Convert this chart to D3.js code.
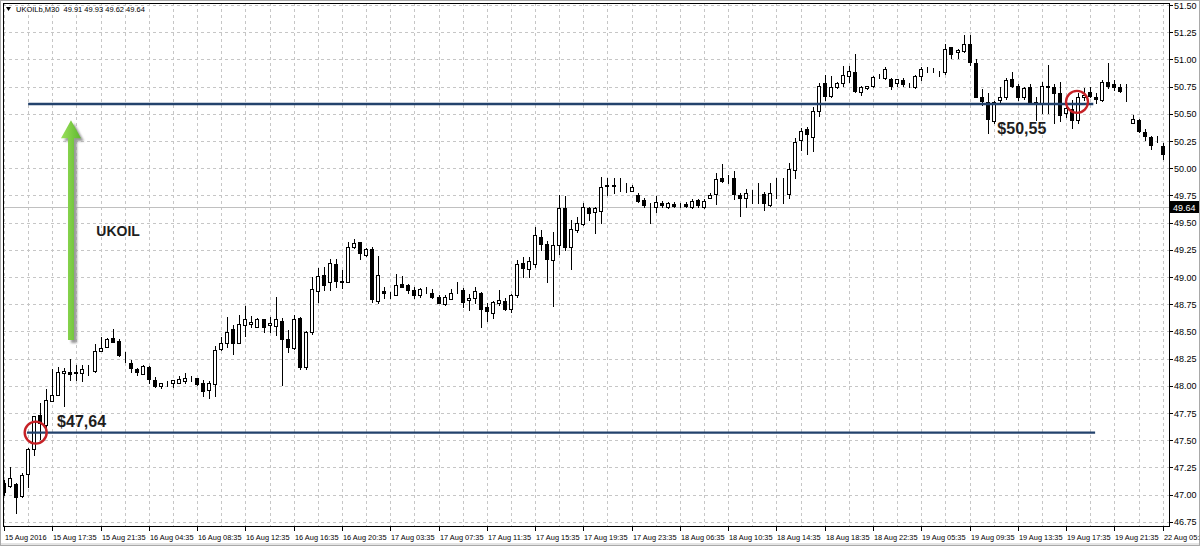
<!DOCTYPE html>
<html>
<head>
<meta charset="utf-8">
<script src="https://cdn.jsdelivr.net/npm/d3@7"></script>
<style>
  body { margin: 0; background: #ffffff; }
  svg { display: block; font-family: "Liberation Sans", Arial, sans-serif; }
</style>
</head>
<body>
<svg id="chart" width="1200" height="546"></svg>
<script>

///////  Data: UKOILb M30 bars ///////

var open = [47.11,47.08,47.10,46.99,47.19,47.42,47.73,47.64,47.86,47.92,
48.12,48.13,48.12,48.12,48.14,48.14,48.32,48.36,48.44,48.41,
48.26,48.21,48.15,48.11,48.17,48.05,48.00,48.02,48.03,48.03,
48.04,48.06,48.07,48.03,47.96,48.02,48.34,48.39,48.52,48.39,
48.56,48.57,48.54,48.61,48.56,48.55,48.60,48.43,48.35,48.62,
48.17,48.49,48.87,49.02,48.95,49.12,48.96,48.95,49.28,49.32,
49.20,49.26,48.78,48.87,48.85,48.83,48.94,48.93,48.88,48.83,
48.88,48.85,48.82,48.75,48.80,48.86,48.88,48.79,48.81,48.85,
48.72,48.67,48.76,48.78,48.71,48.83,49.13,49.07,49.12,49.37,
49.30,49.16,49.29,49.63,49.28,49.43,49.49,49.63,49.60,49.61,
49.84,49.85,49.84,49.83,49.79,49.75,49.71,49.66,49.64,49.68,
49.64,49.67,49.66,49.67,49.64,49.71,49.64,49.73,49.76,49.91,
49.90,49.91,49.75,49.73,49.77,49.77,49.76,49.66,49.77,49.77,
49.76,49.98,50.26,50.36,50.29,50.53,50.78,50.66,50.75,50.78,
50.85,50.88,50.70,50.74,50.76,50.84,50.83,50.82,50.78,50.81,
50.76,50.75,50.85,50.88,50.88,50.88,50.88,51.11,51.07,51.08,
51.14,50.97,50.65,50.61,50.43,50.63,50.65,50.82,50.76,50.65,
50.75,50.60,50.60,50.75,50.75,50.69,50.51,50.54,50.44,50.65,
50.70,50.65,50.63,50.79,50.77,50.75,50.73,50.42,50.44,50.33,
50.29,50.25,50.20];

var high = [47.13,47.25,47.11,47.20,47.43,47.72,47.84,47.97,48.15,48.17,
48.16,48.25,48.19,48.19,48.19,48.38,48.45,48.44,48.52,48.43,
48.31,48.24,48.16,48.19,48.18,48.08,48.03,48.04,48.05,48.09,
48.12,48.09,48.07,48.05,48.04,48.37,48.45,48.63,48.56,48.65,
48.73,48.64,48.62,48.61,48.63,48.82,48.62,48.51,48.65,48.63,
48.50,49.00,49.08,49.09,49.17,49.17,49.06,49.32,49.35,49.32,
49.27,49.28,49.19,48.91,48.86,49.03,49.01,48.94,48.91,48.90,
48.91,48.89,48.83,48.83,48.89,48.95,48.90,48.84,48.91,48.86,
48.76,48.78,48.88,48.81,48.84,49.16,49.18,49.18,49.46,49.43,
49.33,49.41,49.75,49.74,49.52,49.55,49.68,49.64,49.64,49.92,
49.91,49.91,49.91,49.86,49.85,49.77,49.73,49.68,49.74,49.70,
49.69,49.69,49.68,49.69,49.72,49.72,49.72,49.77,49.96,50.04,
49.94,49.97,49.77,49.81,49.80,49.86,49.78,49.86,49.91,49.91,
50.05,50.28,50.37,50.38,50.56,50.78,50.86,50.85,50.79,50.94,
50.94,51.05,50.76,50.76,50.85,50.87,50.93,50.83,50.81,50.83,
50.78,50.86,50.93,50.93,50.92,50.89,51.14,51.11,51.10,51.22,
51.22,51.00,50.73,50.69,50.62,50.75,50.83,50.88,50.77,50.75,
50.77,50.65,50.79,50.95,50.77,50.79,50.60,50.63,50.69,50.74,
50.75,50.69,50.81,50.97,50.81,50.77,50.77,50.49,50.45,50.36,
50.30,50.30,50.23];

var low = [47.00,47.07,46.83,46.98,47.07,47.36,47.51,47.62,47.86,47.92,
47.81,48.05,48.05,48.04,48.10,48.13,48.32,48.36,48.40,48.27,
48.22,48.13,48.10,48.11,48.03,47.99,47.98,48.00,47.99,48.03,
48.03,48.04,48.01,47.91,47.89,47.91,48.33,48.36,48.29,48.39,
48.46,48.54,48.54,48.49,48.49,48.47,48.01,48.31,48.34,48.15,
48.15,48.48,48.77,48.88,48.88,48.91,48.90,48.95,49.27,49.17,
49.19,48.77,48.76,48.81,48.81,48.83,48.91,48.85,48.81,48.82,
48.85,48.81,48.76,48.74,48.80,48.85,48.72,48.70,48.76,48.54,
48.60,48.62,48.74,48.70,48.68,48.82,49.00,49.00,49.09,49.25,
48.95,48.73,49.21,49.25,49.07,49.41,49.48,49.52,49.40,49.50,
49.75,49.77,49.79,49.78,49.79,49.69,49.64,49.50,49.60,49.64,
49.63,49.64,49.64,49.64,49.63,49.64,49.63,49.73,49.67,49.87,
49.86,49.72,49.56,49.64,49.68,49.68,49.62,49.65,49.73,49.68,
49.73,49.91,50.17,50.13,50.16,50.48,50.63,50.65,50.74,50.76,
50.79,50.70,50.67,50.73,50.75,50.83,50.82,50.73,50.76,50.76,
50.75,50.74,50.81,50.88,50.88,50.85,50.87,51.01,51.01,51.07,
50.95,50.65,50.58,50.32,50.42,50.61,50.64,50.75,50.63,50.64,
50.60,50.44,50.51,50.51,50.42,50.43,50.47,50.37,50.42,50.63,
50.65,50.60,50.62,50.74,50.72,50.70,50.62,50.42,50.33,50.26,
50.18,50.24,50.08];

var close = [47.02,47.15,46.98,47.18,47.42,47.72,47.66,47.87,47.92,48.13,
48.14,48.11,48.13,48.15,48.14,48.32,48.35,48.43,48.40,48.28,
48.26,48.16,48.13,48.18,48.06,48.00,48.03,48.02,48.05,48.06,
48.07,48.06,48.02,47.95,48.03,48.33,48.39,48.49,48.39,48.57,
48.61,48.59,48.61,48.54,48.58,48.61,48.43,48.36,48.61,48.17,
48.49,48.89,49.01,48.93,49.13,48.96,48.95,49.28,49.31,49.22,
49.26,48.80,49.02,48.85,48.85,48.93,48.91,48.88,48.83,48.89,
48.88,48.82,48.76,48.82,48.85,48.86,48.77,48.81,48.87,48.71,
48.69,48.77,48.79,48.71,48.83,49.12,49.08,49.15,49.39,49.30,
49.17,49.29,49.63,49.28,49.44,49.50,49.64,49.59,49.63,49.83,
49.85,49.84,49.84,49.83,49.83,49.70,49.66,49.66,49.69,49.66,
49.68,49.65,49.66,49.65,49.70,49.66,49.70,49.75,49.90,49.88,
49.90,49.76,49.73,49.77,49.77,49.77,49.68,49.77,49.77,49.77,
49.99,50.24,50.34,50.31,50.53,50.76,50.66,50.75,50.78,50.86,
50.89,50.71,50.75,50.76,50.84,50.84,50.91,50.76,50.82,50.77,
50.76,50.85,50.91,50.88,50.88,50.88,51.10,51.05,51.09,51.14,
50.98,50.65,50.62,50.45,50.61,50.65,50.81,50.76,50.65,50.74,
50.61,50.61,50.76,50.76,50.69,50.49,50.55,50.44,50.65,50.67,
50.66,50.64,50.79,50.76,50.75,50.71,50.73,50.45,50.34,50.30,
50.21,50.25,50.13];

// one time label every 8 bars
var timeLabels = ["15 Aug 2016","15 Aug 17:35","15 Aug 21:35","16 Aug 04:35","16 Aug 08:35",
"16 Aug 12:35","16 Aug 16:35","16 Aug 20:35","17 Aug 03:35","17 Aug 07:35","17 Aug 11:35",
"17 Aug 15:35","17 Aug 19:35","17 Aug 23:35","18 Aug 06:35","18 Aug 10:35","18 Aug 14:35",
"18 Aug 18:35","18 Aug 22:35","19 Aug 05:35","19 Aug 09:35","19 Aug 13:35","19 Aug 17:35",
"19 Aug 21:35","22 Aug 05:35"];

var priceTicks = [46.75,47.00,47.25,47.50,47.75,48.00,48.25,48.50,48.75,49.00,
49.25,49.50,49.75,50.00,50.25,50.50,50.75,51.00,51.25,51.50];

var header = "UKOILb,M30  49.91 49.93 49.62 49.64";
var bidPrice = 49.64;

// drawn levels and notes: [bar index from, bar index to, price]
var levels = [[3.8, 180.8, 47.57], [4.0, 180.5, 50.59]];
var circles = [[5.25, 47.57], [177.8, 50.61]];
var notes = [["$47,64", 8.8, 47.62, 16], ["$50,55", 164.6, 50.31, 16], ["UKOIL", 15.3, 49.38, 14]];
var arrow = {bar: 11.1, from: 48.42, to: 50.44};


///////  Scales ///////

var svg = d3.select("#chart"),
plot = {left: 3, top: 3, right: 1169, bottom: 526};

var x = d3.scaleLinear().domain([0, open.length - 1]).range([4, 1162.7]);
var y = d3.scaleLinear().domain([46.75, 51.50]).range([521.8, 5]);

var bars = d3.range(open.length).map(function(i) {
    return {i: i, o: open[i], h: high[i], l: low[i], c: close[i]};
});

function px(i) { return Math.round(x(i)); }
function py(p) { return Math.round(y(p)); }


///////  Frame ///////

svg.append("rect")
    .attr("width", 1200).attr("height", 546)
    .attr("fill", "#ffffff");

svg.append("rect")
    .attr("x", 0).attr("y", 543).attr("width", 1200).attr("height", 3)
    .attr("fill", "#e4e4e4");

svg.append("rect")
    .attr("x", 0.5).attr("y", 0.5).attr("width", 1199).attr("height", 545)
    .attr("fill", "none").attr("stroke", "#a9a9a9");

var defs = svg.append("defs");
defs.append("clipPath").attr("id", "clip")
    .append("rect")
    .attr("x", plot.left).attr("y", plot.top)
    .attr("width", plot.right - plot.left).attr("height", plot.bottom - plot.top);
defs.append("filter").attr("id", "blur")
    .attr("x", "-10%").attr("y", "-300%").attr("width", "120%").attr("height", "700%")
    .append("feGaussianBlur").attr("stdDeviation", 1.3);
defs.append("filter").attr("id", "blur2")
    .attr("x", "-50%").attr("y", "-20%").attr("width", "200%").attr("height", "140%")
    .append("feGaussianBlur").attr("stdDeviation", 1.2);

var grad = defs.append("linearGradient").attr("id", "green")
    .attr("x1", "0").attr("x2", "1").attr("y1", "0").attr("y2", "0");
grad.append("stop").attr("offset", "0%").attr("stop-color", "#9be15c");
grad.append("stop").attr("offset", "100%").attr("stop-color", "#5fb82e");


///////  Grid ///////

var grid = svg.append("g").attr("clip-path", "url(#clip)")
    .attr("stroke", "#c6c6c6").attr("stroke-dasharray", "3,3")
    .attr("shape-rendering", "crispEdges");

grid.selectAll(".hg").data(priceTicks).enter().append("line")
    .attr("x1", plot.left).attr("x2", plot.right)
    .attr("y1", function(d) { return py(d) + 0.5; })
    .attr("y2", function(d) { return py(d) + 0.5; });

grid.selectAll(".vg").data(d3.range(0, open.length, 4)).enter().append("line")
    .attr("y1", plot.top).attr("y2", plot.bottom)
    .attr("x1", function(d) { return px(d) + 0.5; })
    .attr("x2", function(d) { return px(d) + 0.5; });

// bid line
svg.append("line")
    .attr("x1", plot.left).attr("x2", plot.right)
    .attr("y1", py(bidPrice) + 0.5).attr("y2", py(bidPrice) + 0.5)
    .attr("stroke", "#c0c0c0").attr("shape-rendering", "crispEdges");


///////  Candles ///////

var candles = svg.append("g").attr("clip-path", "url(#clip)")
    .attr("shape-rendering", "crispEdges");

candles.selectAll(".wick").data(bars).enter().append("line")
    .attr("class", "wick")
    .attr("x1", function(d) { return px(d.i) + 0.5; })
    .attr("x2", function(d) { return px(d.i) + 0.5; })
    .attr("y1", function(d) { return py(d.h); })
    .attr("y2", function(d) { return py(d.l) + 1; })
    .attr("stroke", "#000");

candles.selectAll(".body").data(bars).enter().append("rect")
    .attr("class", "body")
    .attr("x", function(d) { return px(d.i) - 1.5; })
    .attr("y", function(d) { return py(Math.max(d.o, d.c)) + 0.5; })
    .attr("width", 3)
    .attr("height", function(d) { return py(Math.min(d.o, d.c)) - py(Math.max(d.o, d.c)); })
    .attr("fill", function(d) { return d.c < d.o ? "#000" : "#fff"; })
    .attr("stroke", "#000");


///////  Drawn objects ///////

var objs = svg.append("g").attr("clip-path", "url(#clip)");

objs.selectAll(".lvlshadow").data(levels).enter().append("line")
    .attr("x1", function(d) { return x(d[0]); })
    .attr("x2", function(d) { return x(d[1]); })
    .attr("y1", function(d) { return y(d[2]) + 4; })
    .attr("y2", function(d) { return y(d[2]) + 4; })
    .attr("stroke", "#a8a8a8").attr("stroke-width", 4)
    .attr("filter", "url(#blur)");

objs.selectAll(".lvl").data(levels).enter().append("line")
    .attr("x1", function(d) { return x(d[0]); })
    .attr("x2", function(d) { return x(d[1]); })
    .attr("y1", function(d) { return y(d[2]); })
    .attr("y2", function(d) { return y(d[2]); })
    .attr("stroke", "#23426c").attr("stroke-width", 2.4);

objs.selectAll(".ring").data(circles).enter().append("circle")
    .attr("cx", function(d) { return x(d[0]); })
    .attr("cy", function(d) { return y(d[1]); })
    .attr("r", 11)
    .attr("fill", "none").attr("stroke", "#c62126").attr("stroke-width", 2.4);

objs.selectAll(".note").data(notes).enter().append("text")
    .attr("x", function(d) { return x(d[1]); })
    .attr("y", function(d) { return y(d[2]); })
    .attr("font-size", function(d) { return d[3] + "px"; })
    .attr("font-weight", "bold")
    .attr("fill", "#1e1e1e")
    .text(function(d) { return d[0]; });

// green arrow
var ax = x(arrow.bar), aTip = y(arrow.to), aEnd = y(arrow.from);
var arrowPts = [[ax, aTip], [ax + 10, aTip + 18], [ax + 3, aTip + 18], [ax + 3, aEnd],
    [ax - 3, aEnd], [ax - 3, aTip + 18], [ax - 10, aTip + 18]];

objs.append("polygon")
    .attr("points", arrowPts.map(function(p) { return (p[0] + 3) + "," + (p[1] + 3); }).join(" "))
    .attr("fill", "#9a9a9a").attr("filter", "url(#blur2)");
objs.append("polygon")
    .attr("points", arrowPts.map(function(p) { return p[0] + "," + p[1]; }).join(" "))
    .attr("fill", "url(#green)");


///////  Axes ///////

svg.append("rect")
    .attr("x", plot.left + 0.5).attr("y", plot.top + 0.5)
    .attr("width", plot.right - plot.left).attr("height", plot.bottom - plot.top)
    .attr("fill", "none").attr("stroke", "#000")
    .attr("shape-rendering", "crispEdges");

var yAxis = svg.append("g").attr("font-size", "9px").attr("fill", "#000");

yAxis.selectAll(".yt").data(priceTicks).enter().append("line")
    .attr("x1", plot.right).attr("x2", plot.right + 4)
    .attr("y1", function(d) { return py(d) + 0.5; })
    .attr("y2", function(d) { return py(d) + 0.5; })
    .attr("stroke", "#000").attr("shape-rendering", "crispEdges");

yAxis.selectAll(".yl").data(priceTicks).enter().append("text")
    .attr("x", plot.right + 5)
    .attr("y", function(d) { return y(d) + 3.5; })
    .text(function(d) { return d3.format(".2f")(d); });

// bid price box
svg.append("rect")
    .attr("x", plot.right + 1).attr("y", py(bidPrice) - 6)
    .attr("width", 29).attr("height", 12)
    .attr("fill", "#000");
svg.append("text")
    .attr("x", plot.right + 4).attr("y", y(bidPrice) + 3.5)
    .attr("font-size", "9px").attr("fill", "#fff")
    .text(d3.format(".2f")(bidPrice));

var xAxis = svg.append("g").attr("font-size", "7.4px").attr("fill", "#000");

xAxis.selectAll(".xt").data(timeLabels).enter().append("line")
    .attr("x1", function(d, k) { return px(k * 8) + 0.5; })
    .attr("x2", function(d, k) { return px(k * 8) + 0.5; })
    .attr("y1", plot.bottom).attr("y2", plot.bottom + 5)
    .attr("stroke", "#000").attr("shape-rendering", "crispEdges");

xAxis.selectAll(".xl").data(timeLabels).enter().append("text")
    .attr("x", function(d, k) { return px(k * 8) + 1; })
    .attr("y", plot.bottom + 14)
    .text(function(d) { return d; });


///////  Header ///////

svg.append("path")
    .attr("d", "M6,7 L11,7 L8.5,11 Z")
    .attr("fill", "#000");
svg.append("text")
    .attr("x", 16).attr("y", 12)
    .attr("font-size", "7.5px").attr("fill", "#000")
    .attr("xml:space", "preserve")
    .text(header);

</script>
</body>
</html>
